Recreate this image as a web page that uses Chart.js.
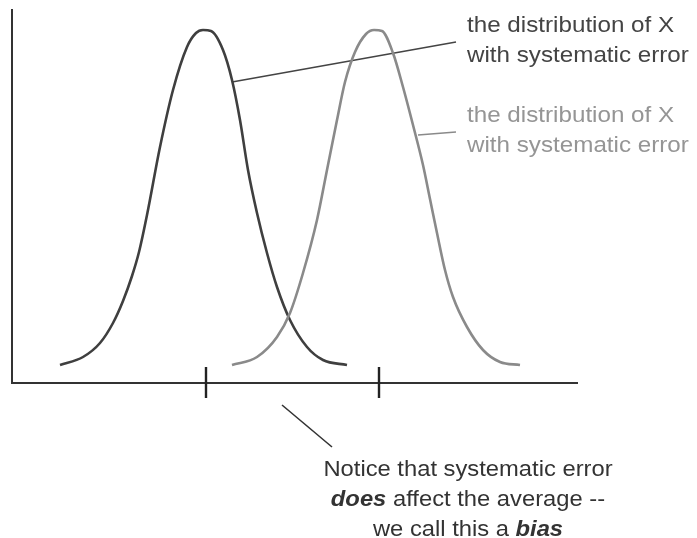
<!DOCTYPE html>
<html>
<head>
<meta charset="utf-8">
<script src="https://cdn.jsdelivr.net/npm/chart.js@4/dist/chart.umd.min.js"></script>
<style>
    html, body { margin: 0; padding: 0; background: #fff; }
    #wrap { position: relative; width: 697px; height: 538px; }
    .note {
        position: absolute;
        font-family: "Liberation Sans", Arial, sans-serif;
        font-size: 22px;
        line-height: 30px;
        white-space: nowrap;
    }
    .dark { color: #444; }
    .light { color: #959595; }
    .right { left: 467px; transform: scaleX(1.1); transform-origin: left top; }
    .bottom { left: 268px; width: 400px; top: 454px; text-align: center; transform: scaleX(1.08); transform-origin: center top; color: #333; }
</style>
</head>
<body>
<div id="wrap">
    <canvas id="chart" width="697" height="538"></canvas>
    <div class="note dark right" style="top: 10px;">the distribution of X<br>with systematic error</div>
    <div class="note light right" style="top: 100px;">the distribution of X<br>with systematic error</div>
    <div class="note bottom">Notice that systematic error<br><b><i>does</i></b> affect the average --<br>we call this a <b><i>bias</i></b></div>
</div>
<script>
// curves (x along the axis, y height above it)
const firstX = [48, 71, 88, 101, 111, 120, 127, 135, 148, 161, 175, 184, 191, 199, 211, 220, 228, 236, 245, 255, 265, 278, 295, 311, 335];
const firstY = [18, 26, 40, 60, 82, 107, 131, 168, 236, 293, 336, 350, 353, 352, 333, 303, 263, 213, 170, 130, 96, 63, 36, 23, 18];
const secondX = [220, 245, 265, 278, 291, 305, 315, 325, 333, 343, 354, 362, 370, 381, 391, 401, 411, 418, 425, 433, 441, 455, 471, 488, 508];
const secondY = [18, 26, 46, 70, 110, 163, 213, 263, 301, 331, 349, 353, 352, 330, 296, 258, 218, 184, 150, 113, 86, 56, 33, 21, 18];

// averages marked on the axis
const means = [194, 367];
const tickLow = -15;
const tickHigh = 16;

// leader lines [x1, y1, x2, y2]
const leaderFirst = [220, 301, 444, 341];
const leaderSecond = [406, 248, 444, 251];
const leaderBias = [270, -22, 320, -64];

const toPts = (xs, ys) => xs.map((x, i) => ({ x: x, y: ys[i] }));
const seg = (l) => [{ x: l[0], y: l[1] }, { x: l[2], y: l[3] }];

const lineDs = (data, color, width) => ({
    data: data,
    borderColor: color,
    borderWidth: width,
    pointRadius: 0,
    showLine: true,
    fill: false,
    clip: false
});

const curve1 = lineDs(toPts(firstX, firstY), '#3f3f3f', 2.6);
curve1.cubicInterpolationMode = 'monotone';
const curve2 = lineDs(toPts(secondX, secondY), '#8a8a8a', 2.6);
curve2.cubicInterpolationMode = 'monotone';

const datasets = [
    curve2,
    curve1,
    lineDs(seg(leaderFirst), '#444', 1.6),
    lineDs(seg(leaderSecond), '#8a8a8a', 1.6),
    lineDs(seg(leaderBias), '#333', 1.6)
];
for (const m of means) {
    datasets.push(lineDs([{ x: m, y: tickLow }, { x: m, y: tickHigh }], '#222', 2.4));
}

new Chart(document.getElementById('chart'), {
    type: 'scatter',
    data: { datasets: datasets },
    options: {
        responsive: false,
        animation: false,
        layout: { padding: { left: 12, top: 10, right: 120, bottom: 155 } },
        plugins: { legend: { display: false }, tooltip: { enabled: false } },
        scales: {
            x: {
                type: 'linear', min: 0, max: 565,
                ticks: { display: false },
                grid: { display: false, drawTicks: false, tickLength: 0 },
                border: { display: true, color: '#333', width: 2 }
            },
            y: {
                type: 'linear', min: 0, max: 373,
                ticks: { display: false },
                grid: { display: false, drawTicks: false, tickLength: 0 },
                border: { display: true, color: '#333', width: 2 }
            }
        }
    }
});
</script>
</body>
</html>
